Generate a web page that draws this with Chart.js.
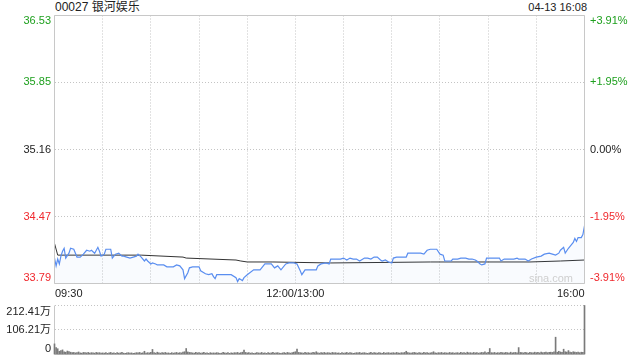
<!DOCTYPE html>
<html><head><meta charset="utf-8">
<script src="https://cdn.jsdelivr.net/npm/chart.js@4.4.1/dist/chart.umd.min.js"></script>
<style>
html,body{margin:0;padding:0;background:#fff;}
#wrap{position:relative;width:640px;height:360px;overflow:hidden;font-family:"Liberation Sans",Arial,"Noto Sans CJK SC",sans-serif;}
#c1{position:absolute;left:0;top:0;}
#c2{position:absolute;left:0;top:300px;}
.t{position:absolute;color:#222;line-height:14px;white-space:nowrap;}
</style></head><body>
<div id="wrap">
<div class="t" style="left:55px;top:0px;font-size:12px;">00027 银河娱乐</div>
<div class="t" style="right:53px;top:0px;font-size:11px;">04-13 16:08</div>
<canvas id="c1" width="640" height="300"></canvas>
<canvas id="c2" width="640" height="60"></canvas>
</div>
<script>
// ---- data ----
const priceTicks = [36.53, 35.85, 35.16, 34.47, 33.79];
const pctTicks = ['+3.91%', '+1.95%', '0.00%', '-1.95%', '-3.91%'];
const timeLabels = ['09:30', '12:00/13:00', '16:00'];
const timeLabelMinutes = [0, 150, 330];
const gridMinutes = [0, 30, 60, 90, 120, 150, 180, 210, 240, 270, 300, 330];
const volTicks = [0, 106.21, 212.41];
const volTickLabels = ['0', '106.21万', '212.41万'];

const priceMin = [0,1,2,3,4,5,6,7,9,10,12,14,16,18,20,22,23,25,27,28,29,31,32,35,36,38,40,42,43,45,47,49,51,52,54,56,57,58,60,61,63,64,68,70,74,76,78,80,81,83,84,86,90,91,94,96,98,99,100,101,103,110,113,114,115,117,118,120,124,128,131,135,137,139,141,144,146,149,151,153,154,156,157,160,163,164,166,169,171,172,174,176,178,180,182,184,186,188,190,193,195,197,199,201,203,204,206,208,210,211,213,215,219,220,223,226,228,230,232,234,238,240,242,243,247,248,251,253,256,258,260,262,263,265,266,268,269,274,277,278,280,284,286,288,289,291,293,295,297,300,303,305,308,310,312,314,315,317,318,320,321,323,324,325,326,328,329,330];
const priceVal = [34.05,33.97,34.04,33.99,34.07,34.12,34.15,34.05,34.10,34.15,34.14,34.06,34.06,34.09,34.13,34.12,34.13,34.10,34.16,34.12,34.07,34.09,34.14,34.14,34.05,34.09,34.10,34.07,34.07,34.06,34.05,34.06,34.07,34.09,34.06,34.02,34.04,34.02,33.99,34.00,33.99,33.98,33.98,33.96,33.96,33.98,33.97,33.93,33.84,33.90,33.95,33.96,33.96,33.92,33.89,33.88,33.89,33.86,33.84,33.88,33.88,33.88,33.85,33.81,33.84,33.82,33.85,33.88,33.93,33.93,33.99,33.99,33.95,33.97,33.93,33.99,34.00,34.00,33.99,33.92,33.88,33.93,33.93,33.93,33.93,33.97,33.99,34.00,33.99,34.04,34.04,34.04,34.04,34.05,34.03,34.05,34.04,34.04,34.02,34.05,34.05,34.04,34.06,34.06,34.03,34.02,34.03,34.01,34.00,34.05,34.06,34.06,34.06,34.10,34.10,34.10,34.10,34.09,34.13,34.14,34.14,34.09,34.08,34.02,34.02,34.04,34.04,34.05,34.05,34.04,34.04,34.03,34.02,33.99,33.98,33.99,34.05,34.05,34.05,34.02,34.04,34.04,34.04,34.05,34.04,34.04,34.04,34.02,34.04,34.06,34.07,34.09,34.10,34.09,34.08,34.10,34.13,34.16,34.10,34.15,34.17,34.21,34.25,34.22,34.26,34.26,34.29,34.38];

const avgMin = [0,2,54,80,82,113,116,120,136,172,234,296,315,330];
const avgVal = [34.20,34.08,34.08,34.06,34.05,34.03,34.02,34.01,34.01,34.00,34.01,34.01,34.02,34.03];

// volume per minute (万股), index = minute from 09:30 (last = closing auction)
const volume = [
46,30,25,14,17,20,12,10,15,13,
10,8,9,7,8,11,7,6,9,8,
7,9,6,8,7,6,9,7,8,6,
7,6,8,5,7,9,6,7,5,8,
6,7,9,6,5,7,8,6,7,5,
6,8,7,9,6,7,14,6,8,7,
9,22,8,6,10,7,6,8,7,9,
6,7,5,8,6,7,9,6,8,7,
10,12,26,11,9,8,7,6,9,7,
8,6,7,9,6,7,5,8,6,7,
6,8,7,5,6,9,7,6,8,5,
7,6,8,7,9,6,8,10,19,9,
7,8,6,7,5,6,8,7,6,9,
6,7,5,8,6,7,9,6,7,8,
6,5,7,8,6,9,7,6,8,10,
12,23,9,8,7,6,9,7,8,6,
7,9,8,12,7,6,8,7,9,6,
8,7,6,9,7,8,6,7,5,8,
6,7,9,6,8,7,5,6,8,7,
9,6,7,8,6,5,7,9,6,8,
7,6,8,7,5,9,6,7,8,6,
7,8,6,9,7,6,8,7,9,14,
8,7,6,8,9,7,6,8,7,6,
9,7,8,6,7,8,12,7,6,8,
7,9,6,8,7,6,9,7,8,6,
7,8,6,9,7,8,6,10,7,8,
6,9,7,8,6,7,9,8,12,7,
9,26,8,7,9,6,8,7,9,8,
7,9,8,6,10,7,8,9,7,30,
9,8,7,9,8,6,9,8,7,10,
8,9,7,10,8,9,11,8,9,10,
9,12,75,10,14,11,9,23,12,10,
17,11,9,12,10,9,11,8,10,9,
212.41];

// ---- styles ----
const FONT = '11px "Liberation Sans", Arial, "Noto Sans CJK SC", sans-serif';
const GREEN = '#1ea01e', RED = '#f0282d', DARK = '#222222';
const tickColors = [GREEN, GREEN, DARK, RED, RED];
const FRAME = '#c8c8c8', GRID = '#c4c4c4';

function frameLines(ctx, a, sides) {
  ctx.save();
  ctx.strokeStyle = FRAME; ctx.lineWidth = 1; ctx.setLineDash([]);
  ctx.beginPath();
  if (sides.top) { ctx.moveTo(a.left, a.top); ctx.lineTo(a.right, a.top); }
  if (sides.bottom) { ctx.moveTo(a.left, a.bottom); ctx.lineTo(a.right, a.bottom); }
  if (sides.left) { ctx.moveTo(a.left, a.top); ctx.lineTo(a.left, a.bottom); }
  if (sides.right) { ctx.moveTo(a.right, a.top); ctx.lineTo(a.right, a.bottom); }
  ctx.stroke();
  ctx.restore();
}

const pricePlugin = {
  id: 'priceDecor',
  afterDatasetsDraw(chart) {
    frameLines(chart.ctx, chart.chartArea, {top:1,bottom:1,left:1,right:1});
  },
  afterDraw(chart) {
    const ctx = chart.ctx, ys = chart.scales.y, xs = chart.scales.x, a = chart.chartArea;
    ctx.save();
    ctx.font = FONT;
    ctx.textBaseline = 'middle';
    priceTicks.forEach((v, i) => {
      let y = ys.getPixelForValue(v);
      if (i === 0) y += 5;
      if (i === priceTicks.length - 1) y -= 6;
      ctx.fillStyle = tickColors[i];
      ctx.textAlign = 'right';
      ctx.fillText(v.toFixed(2), 51, y);
      ctx.textAlign = 'left';
      ctx.fillText(pctTicks[i], 590, y);
    });
    ctx.fillStyle = DARK;
    timeLabels.forEach((t, i) => {
      const x = xs.getPixelForValue(timeLabelMinutes[i]);
      ctx.textAlign = i === 0 ? 'left' : (i === timeLabels.length - 1 ? 'right' : 'center');
      ctx.fillText(t, i === 0 ? x + 0.5 : x, a.bottom + 10);
    });
    ctx.fillStyle = '#cfcfcf';
    ctx.textAlign = 'right';
    ctx.fillText('sina.com', 573, a.bottom - 5);
    ctx.restore();
  }
};

new Chart(document.getElementById('c1'), {
  type: 'line',
  data: {
    datasets: [
      {
        data: priceMin.map((m, i) => ({x: m, y: priceVal[i]})),
        borderColor: '#5a8ef0', borderWidth: 1.2, pointRadius: 0, tension: 0,
        fill: 'start', backgroundColor: 'rgba(91,143,232,0.035)'
      },
      {
        data: avgMin.map((m, i) => ({x: m, y: avgVal[i]})),
        borderColor: '#333333', borderWidth: 1, pointRadius: 0, tension: 0, fill: false
      }
    ]
  },
  options: {
    responsive: false, animation: false, events: [],
    layout: {padding: {left: 54.5, right: 55.5, top: 15.5, bottom: 16.5}},
    plugins: {legend: {display: false}, tooltip: {enabled: false}, title: {display: false}},
    scales: {
      x: {
        type: 'linear', min: 0, max: 330,
        afterBuildTicks: s => { s.ticks = gridMinutes.map(v => ({value: v})); },
        ticks: {display: false},
        grid: {color: GRID, lineWidth: 1, drawTicks: false},
        border: {display: false, dash: [1, 2]},
        afterFit: s => { s.height = 0; }
      },
      y: {
        type: 'linear', min: 33.79, max: 36.53,
        afterBuildTicks: s => { s.ticks = priceTicks.map(v => ({value: v})); },
        ticks: {display: false},
        grid: {color: GRID, lineWidth: 1, drawTicks: false},
        border: {display: false, dash: [1, 2]},
        afterFit: s => { s.width = 0; }
      }
    }
  },
  plugins: [pricePlugin]
});

const volPlugin = {
  id: 'volDecor',
  beforeDatasetsDraw(chart) {
    frameLines(chart.ctx, chart.chartArea, {bottom:1,left:1,right:1});
  },
  afterDraw(chart) {
    const ctx = chart.ctx, ys = chart.scales.y;
    ctx.save();
    ctx.font = FONT;
    ctx.textBaseline = 'middle';
    ctx.textAlign = 'right';
    ctx.fillStyle = DARK;
    volTicks.forEach((v, i) => {
      let y = ys.getPixelForValue(v);
      if (i === 0) y -= 6;
      if (i === volTicks.length - 1) y += 6;
      ctx.fillText(volTickLabels[i], 51, y);
    });
    ctx.restore();
  }
};

new Chart(document.getElementById('c2'), {
  type: 'bar',
  data: {
    datasets: [{
      data: volume.map((v, i) => ({x: i, y: v})),
      backgroundColor: '#7a7a7a', barThickness: 1, borderWidth: 0, clip: false
    }]
  },
  options: {
    responsive: false, animation: false, events: [],
    layout: {padding: {left: 54.5, right: 55.5, top: 5.5, bottom: 5.5}},
    plugins: {legend: {display: false}, tooltip: {enabled: false}},
    scales: {
      x: {
        type: 'linear', min: 0, max: 330, offset: false,
        ticks: {display: false},
        grid: {display: false, offset: false},
        border: {display: false},
        afterFit: s => { s.height = 0; }
      },
      y: {
        type: 'linear', min: 0, max: 212.41,
        afterBuildTicks: s => { s.ticks = volTicks.map(v => ({value: v})); },
        ticks: {display: false},
        grid: {color: GRID, lineWidth: 1, drawTicks: false},
        border: {display: false, dash: [1, 2]},
        afterFit: s => { s.width = 0; }
      }
    }
  },
  plugins: [volPlugin]
});
</script>
</body></html>
